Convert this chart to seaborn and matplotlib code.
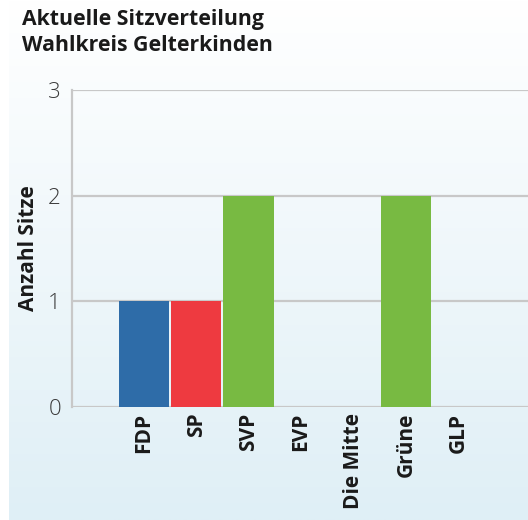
import numpy as np
import pandas as pd
import matplotlib.pyplot as plt
import seaborn as sns

# Daten
parteien = ["FDP", "SP", "SVP", "EVP", "Die Mitte", "Grüne", "GLP"]
sitze = [1, 1, 2, 0, 0, 2, 0]
farben = ["#2e6ca8", "#ee3a40", "#78ba42", "#999999", "#999999", "#78ba42", "#999999"]
y_ticks = [0, 1, 2, 3]

df = pd.DataFrame({"Partei": parteien, "Sitze": sitze})

sns.set_theme(style="white")
plt.rcParams["font.family"] = ["Open Sans", "DejaVu Sans"]

fig = plt.figure(figsize=(5.28, 5.2), dpi=100)

# Hintergrund mit Verlauf (weiss -> hellblau)
bg = fig.add_axes([9 / 528, 0, 1 - 9 / 528, 1], zorder=-10)
top = np.array([1.0, 1.0, 1.0])
bottom = np.array([0xdf, 0xef, 0xf6]) / 255
t = np.linspace(0, 1, 256)[:, None]
grad = top * (1 - t) + bottom * t
bg.imshow(grad[:, None, :], aspect="auto", extent=[0, 1, 0, 1])
bg.set_axis_off()

ax = fig.add_axes([72 / 528, 1 - 407 / 520, 1 - 72 / 528, (407 - 90) / 520])
ax.patch.set_alpha(0)

sns.barplot(data=df, x="Partei", y="Sitze", hue="Partei", palette=farben,
            width=0.96, dodge=False, legend=False, saturation=1,
            linewidth=0, ax=ax)

ax.set_xlim(-1.37, 7.33)
ax.set_ylim(0, 3)
ax.set_yticks(y_ticks)
ax.yaxis.grid(True, color="#c8c8c8", linewidth=1.6)
ax.set_axisbelow(True)
for s in ["top", "right", "bottom"]:
    ax.spines[s].set_visible(False)
ax.spines["left"].set_color("#c8c8c8")
ax.spines["left"].set_linewidth(1.6)

ax.tick_params(axis="y", length=0, pad=8, labelsize=16, labelcolor="#3a3a3a")
ax.tick_params(axis="x", length=0, pad=4, labelsize=15, labelcolor="#1a1a1a")
for lbl in ax.get_yticklabels():
    lbl.set_fontweight("light")
for lbl in ax.get_xticklabels():
    lbl.set_rotation(90)
    lbl.set_fontweight("bold")

ax.set_xlabel("")
ax.set_ylabel("Anzahl Sitze", fontsize=15, fontweight="bold", color="#1a1a1a")
ax.yaxis.set_label_coords(-0.072, 0.5)

fig.text(22 / 528, 1 - 9 / 520, "Aktuelle Sitzverteilung\nWahlkreis Gelterkinden",
         ha="left", va="top", fontsize=15.3, fontweight="bold", color="#1a1a1a",
         linespacing=1.3)

fig.savefig("out.png", dpi=100)
